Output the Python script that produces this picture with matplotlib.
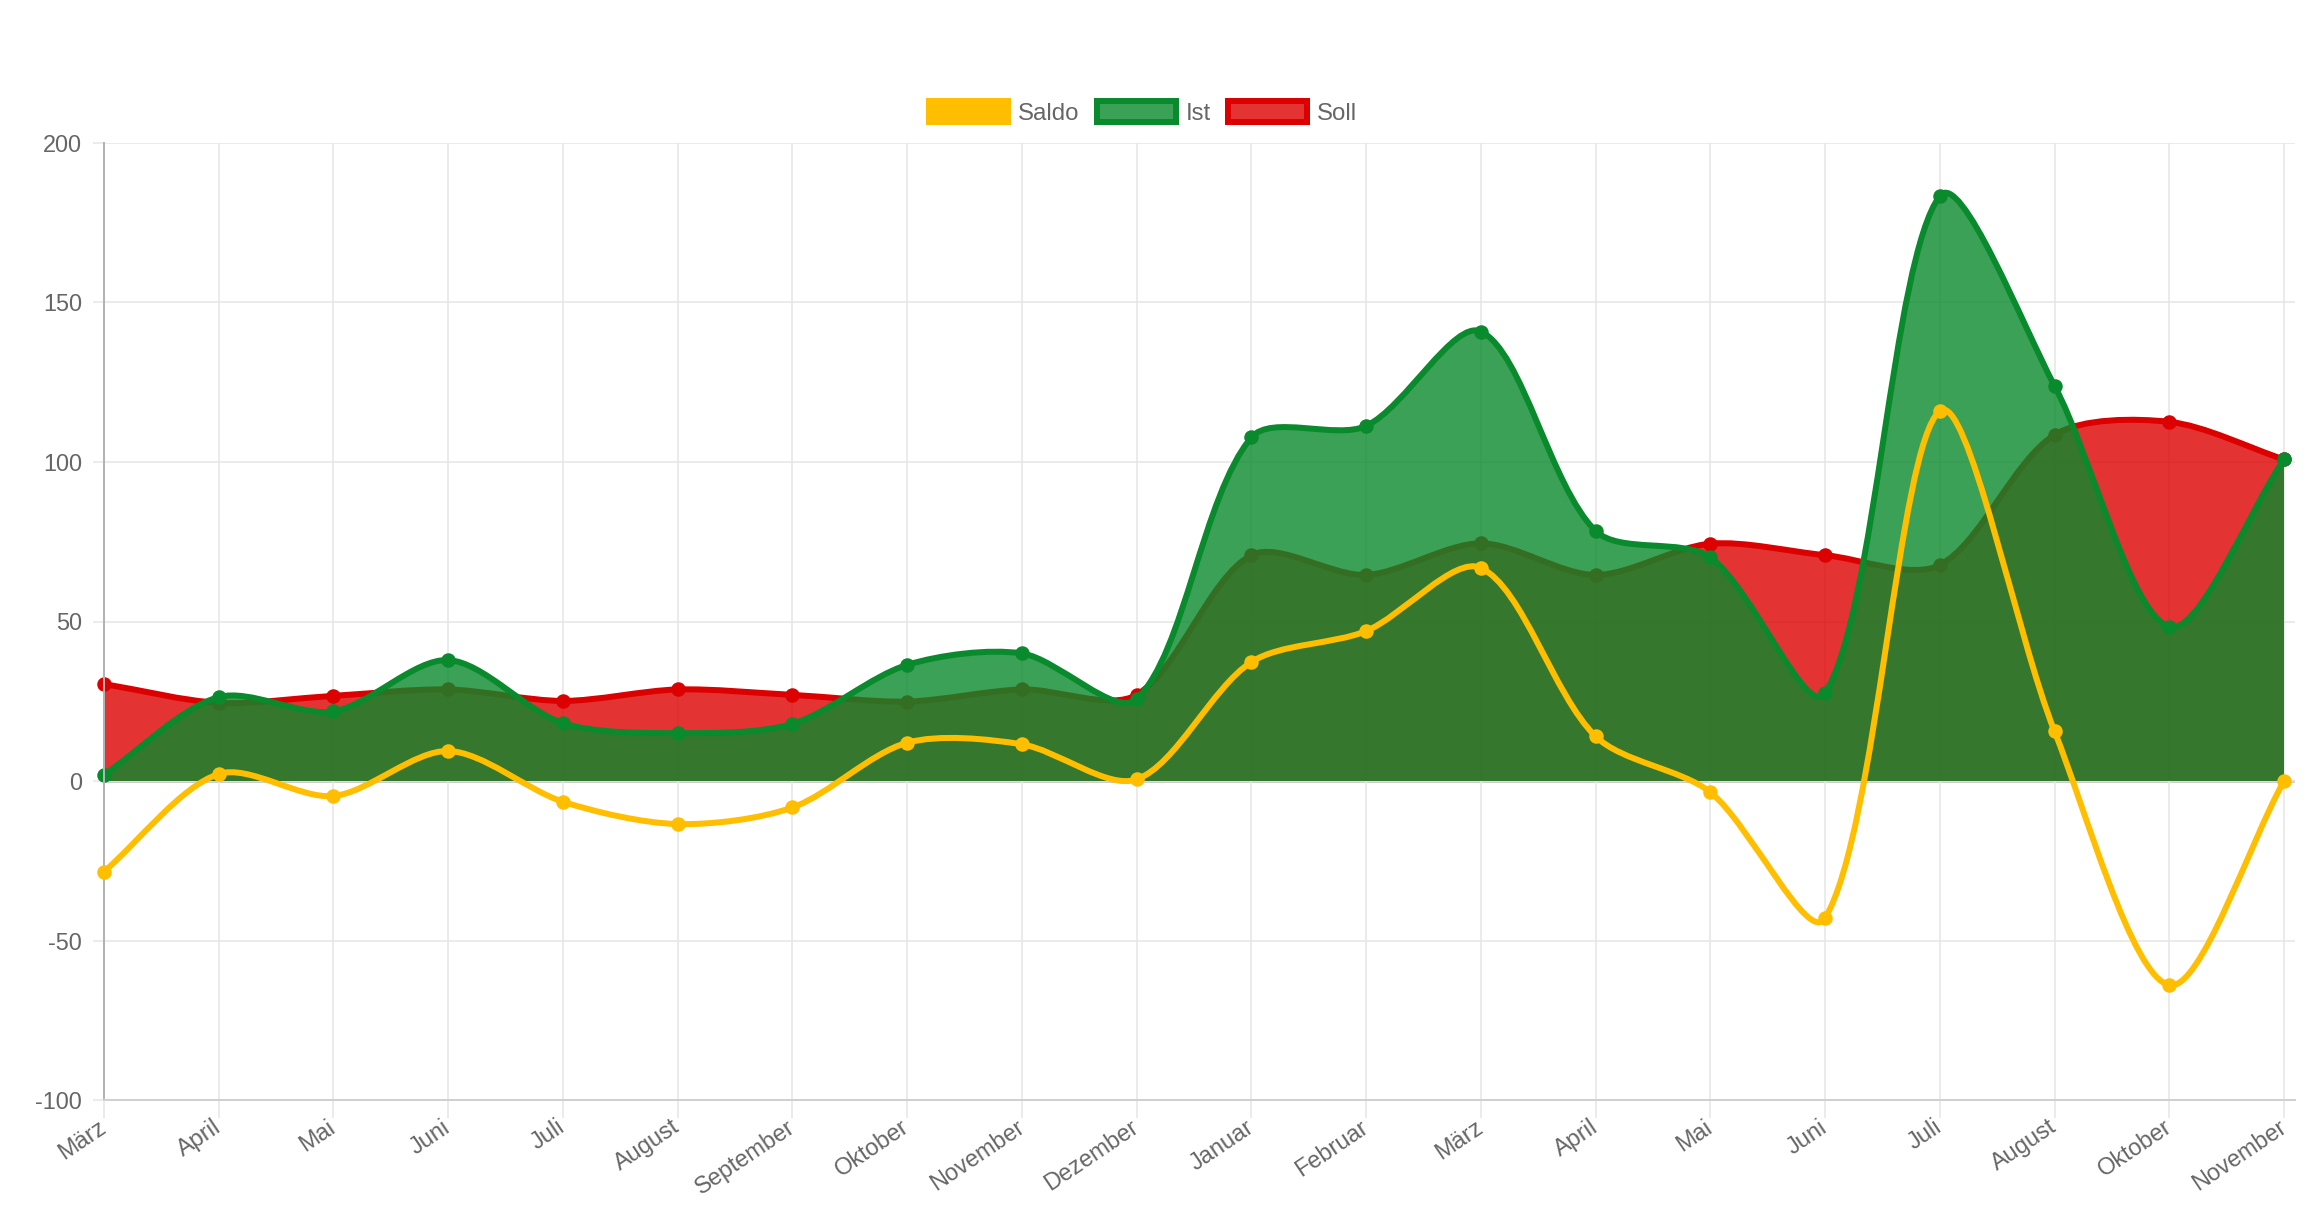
import numpy as np
import matplotlib
matplotlib.use("Agg")
import matplotlib.pyplot as plt
from matplotlib.path import Path
from matplotlib.patches import PathPatch, Patch

# -------------------------------
# Data
# -------------------------------
months = ["März", "April", "Mai", "Juni", "Juli", "August", "September",
          "Oktober", "November", "Dezember", "Januar", "Februar", "März",
          "April", "Mai", "Juni", "Juli", "August", "Oktober", "November"]
soll = [30.4, 24.5, 26.7, 28.7, 25.1, 28.7, 27.0, 24.9, 28.7, 27.0,
        70.8, 64.6, 74.5, 64.6, 74.4, 70.8, 67.7, 108.5, 112.6, 100.8]
ist = [1.9, 26.3, 21.8, 37.9, 18.1, 15.0, 17.9, 36.4, 40.0, 25.7,
       107.7, 111.3, 140.9, 78.4, 70.1, 27.5, 183.4, 123.9, 48.3, 100.8]
saldo = [-28.4, 2.2, -4.7, 9.4, -6.5, -13.5, -8.3, 12.0, 11.5, 0.5,
         37.3, 47.0, 66.8, 14.0, -3.5, -43.0, 116.0, 15.6, -64.0, 0.0]

AMBER = "#ffbf00"
GREEN = "#098a2c"
RED = "#dd0000"
TEXT = "#666666"
GRID = "#e5e5e5"

plt.rcParams["font.family"] = ["Liberation Sans", "DejaVu Sans"]
plt.rcParams["axes.unicode_minus"] = False

DPI = 100
fig = plt.figure(figsize=(23.13, 12.19), dpi=DPI)
ax = fig.add_axes([104 / 2313, 119 / 1219, 2191 / 2313, 957 / 1219])

x = np.arange(len(months))
ax.set_xlim(0, 19.096)
ax.set_ylim(-100, 200)


def px(p):
    return p * 72 / DPI


def spline_path(xs, ys, tension=0.3, fill_to=None):
    # bezier spline like chart.js, control points computed in pixel space
    pts = ax.transData.transform(np.column_stack([xs, ys]))
    n = len(pts)
    cp_in = np.zeros_like(pts)
    cp_out = np.zeros_like(pts)
    for i in range(n):
        prev = pts[max(i - 1, 0)]
        cur = pts[i]
        nxt = pts[min(i + 1, n - 1)]
        d01 = np.hypot(*(cur - prev))
        d12 = np.hypot(*(nxt - cur))
        tot = d01 + d12
        s01 = d01 / tot if tot else 0
        s12 = d12 / tot if tot else 0
        cp_in[i] = cur - tension * s01 * (nxt - prev)
        cp_out[i] = cur + tension * s12 * (nxt - prev)
    verts = [pts[0]]
    codes = [Path.MOVETO]
    for i in range(n - 1):
        verts += [cp_out[i], cp_in[i + 1], pts[i + 1]]
        codes += [Path.CURVE4] * 3
    verts = list(ax.transData.inverted().transform(np.array(verts)))
    if fill_to is not None:
        verts += [(xs[-1], fill_to), (xs[0], fill_to), (xs[0], fill_to)]
        codes += [Path.LINETO, Path.LINETO, Path.CLOSEPOLY]
    return Path(np.array(verts), codes)


# -------------------------------
# Grid / axes styling
# -------------------------------
ax.set_xticks(x)
ax.set_xticklabels(months)
ax.set_yticks(np.arange(-100, 201, 50))
ax.grid(True, color=GRID, linewidth=px(1.5), zorder=0)
ax.set_axisbelow(True)
ax.tick_params(axis="x", length=px(18), width=px(1.5), color=GRID,
               labelsize=16.9, labelcolor=TEXT, pad=px(7))
ax.tick_params(axis="y", length=px(11), width=px(1.5), color=GRID,
               labelsize=16.9, labelcolor=TEXT, pad=px(11))
for lab in ax.get_xticklabels():
    lab.set_rotation(34)
    lab.set_ha("right")
    lab.set_va("center")
    lab.set_rotation_mode("anchor")

for s in ["top", "right"]:
    ax.spines[s].set_visible(False)
ax.spines["left"].set_color("#b3b3b3")
ax.spines["left"].set_linewidth(px(2))
ax.spines["bottom"].set_color("#d0d0d0")
ax.spines["bottom"].set_linewidth(px(2))
ax.axhline(0, color="#bdbdbd", linewidth=px(2.5), zorder=0.5)
ax.xaxis.get_major_ticks()[0].tick1line.set_color("#b3b3b3")
ax.yaxis.get_major_ticks()[2].tick1line.set_color("#bdbdbd")

# -------------------------------
# Series (Soll bottom, Ist, Saldo on top)
# -------------------------------
lw = px(6)
ms = px(12.5)
series = [
    (soll, RED, True, 1),
    (ist, GREEN, True, 2),
    (saldo, AMBER, False, 3),
]
for ys, col, filled, z in series:
    if filled:
        ax.add_patch(PathPatch(spline_path(x, ys, fill_to=0), facecolor=col,
                               edgecolor="none", alpha=0.8, zorder=z))
    ax.add_patch(PathPatch(spline_path(x, ys), facecolor="none", edgecolor=col,
                           linewidth=lw, zorder=z + 0.1, capstyle="round",
                           joinstyle="round"))
    ax.plot(x, ys, "o", color=col, markersize=ms, markeredgewidth=px(2),
            markeredgecolor=col, zorder=z + 0.2, clip_on=False)

# -------------------------------
# Legend
# -------------------------------
handles = [
    Patch(facecolor=AMBER, edgecolor=AMBER, linewidth=px(6), label="Saldo"),
    Patch(facecolor=matplotlib.colors.to_rgba(GREEN, 0.8), edgecolor=GREEN,
          linewidth=px(6), label="Ist"),
    Patch(facecolor=matplotlib.colors.to_rgba(RED, 0.8), edgecolor=RED,
          linewidth=px(6), label="Soll"),
]
fig.legend(handles=handles, loc="center", bbox_to_anchor=(1143 / 2313, 1 - 113 / 1219),
           ncol=3, frameon=False, fontsize=17.3, labelcolor=TEXT,
           handlelength=3.3, handleheight=0.96, handletextpad=0.4,
           columnspacing=0.72, borderpad=0, borderaxespad=0)

fig.savefig("out.png", dpi=DPI)
